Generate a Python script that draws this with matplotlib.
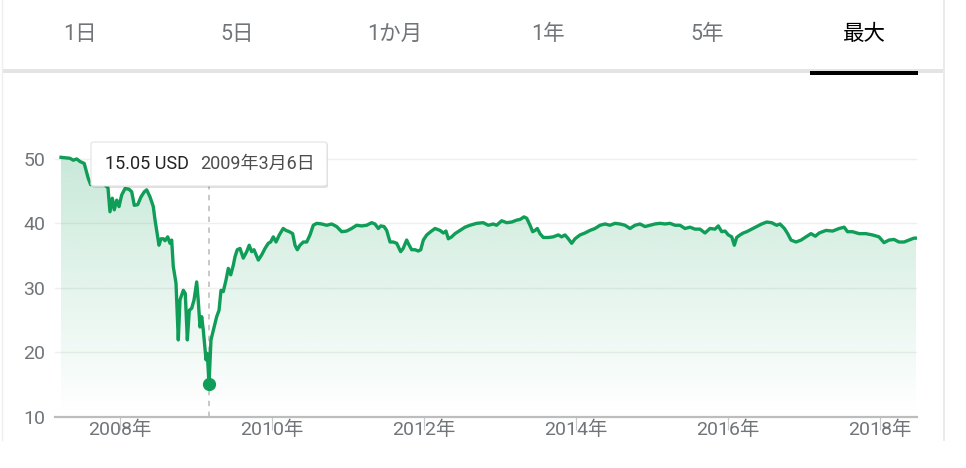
import matplotlib
matplotlib.use("Agg")
import matplotlib.pyplot as plt
import numpy as np
from matplotlib.patches import FancyBboxPatch, PathPatch, Rectangle
from matplotlib.lines import Line2D

# ---------------- data ----------------
dates = [
    2007.224, 2007.342, 2007.386, 2007.430, 2007.474, 2007.529, 2007.582, 2007.614,
    2007.684, 2007.750, 2007.800, 2007.842,
    2007.868, 2007.899, 2007.925, 2007.957, 2007.987, 2008.022, 2008.066, 2008.118,
    2008.154, 2008.188, 2008.233, 2008.276, 2008.320, 2008.351, 2008.395, 2008.438,
    2008.461, 2008.487, 2008.513, 2008.539, 2008.572, 2008.592, 2008.628, 2008.658,
    2008.680, 2008.701, 2008.737, 2008.767, 2008.789, 2008.833, 2008.859, 2008.886,
    2008.912, 2008.943, 2008.974, 2009.009, 2009.029, 2009.053, 2009.075, 2009.096,
    2009.132, 2009.149, 2009.171, 2009.197, 2009.228, 2009.272, 2009.303, 2009.329,
    2009.359, 2009.395, 2009.425, 2009.457, 2009.491, 2009.513, 2009.543, 2009.579,
    2009.622, 2009.667, 2009.700, 2009.732, 2009.763, 2009.820, 2009.864, 2009.908,
    2009.951, 2009.982, 2010.017, 2010.053, 2010.096, 2010.147, 2010.184, 2010.228,
    2010.272, 2010.303, 2010.333, 2010.368, 2010.412, 2010.457, 2010.500, 2010.543,
    2010.588, 2010.654, 2010.720, 2010.786, 2010.851, 2010.917, 2010.982, 2011.047,
    2011.113, 2011.179, 2011.245, 2011.311, 2011.355, 2011.399, 2011.430, 2011.474,
    2011.509, 2011.553, 2011.596, 2011.641, 2011.693, 2011.726, 2011.772, 2011.805,
    2011.838, 2011.882, 2011.925, 2011.957, 2011.991, 2012.036, 2012.088, 2012.145,
    2012.211, 2012.254, 2012.289, 2012.320, 2012.364, 2012.408, 2012.474, 2012.539,
    2012.605, 2012.693, 2012.779, 2012.846, 2012.911, 2012.955, 2013.022, 2013.088,
    2013.154, 2013.220, 2013.263, 2013.316, 2013.351, 2013.395, 2013.430, 2013.461,
    2013.491, 2013.526, 2013.570, 2013.636, 2013.700, 2013.767, 2013.811, 2013.855,
    2013.899, 2013.943, 2013.987, 2014.053, 2014.118, 2014.184, 2014.250, 2014.316,
    2014.382, 2014.447, 2014.513, 2014.579, 2014.645, 2014.711, 2014.776, 2014.842,
    2014.908, 2014.974, 2015.039, 2015.105, 2015.171, 2015.237, 2015.303, 2015.368,
    2015.434, 2015.500, 2015.566, 2015.632, 2015.697, 2015.763, 2015.829, 2015.872,
    2015.917, 2015.961, 2016.004, 2016.049, 2016.083, 2016.114, 2016.158, 2016.201,
    2016.246, 2016.311, 2016.376, 2016.443, 2016.509, 2016.574, 2016.641, 2016.684,
    2016.742, 2016.785, 2016.829, 2016.895, 2016.961, 2017.026, 2017.092, 2017.149,
    2017.200, 2017.289, 2017.376, 2017.463, 2017.529, 2017.572, 2017.638, 2017.725,
    2017.813, 2017.900, 2017.987, 2018.053, 2018.118, 2018.184, 2018.250, 2018.316,
    2018.382, 2018.447, 2018.474,
]
prices = [
    50.25, 50.1, 49.8, 50.0, 49.6, 49.3, 47.0, 46.0,
    46.5, 47.2, 46.0, 45.5,
    41.8, 43.9, 42.1, 43.6, 42.6, 44.4, 45.4, 45.3,
    44.9, 42.8, 42.9, 44.1, 44.9, 45.2, 44.1, 42.6,
    40.5, 38.5, 36.6, 37.6, 37.6, 37.3, 37.9, 36.9,
    37.4, 33.3, 30.7, 21.9, 28.1, 29.6, 29.1, 21.9,
    26.5, 26.8, 28.1, 30.9, 28.1, 23.9, 25.5, 23.4,
    18.8, 19.8, 15.05, 21.9, 23.4, 25.5, 26.5, 29.6,
    29.4, 31.2, 33.0, 32.0, 33.5, 34.8, 35.9, 36.1,
    34.6, 35.6, 36.6, 35.6, 35.9, 34.3, 35.1, 36.1,
    36.9, 37.1, 37.9, 37.1, 38.2, 39.2, 38.9, 38.7,
    38.4, 36.6, 35.9, 36.6, 37.1, 37.1, 38.2, 39.7,
    40.0, 39.9, 39.7, 39.9, 39.5, 38.7, 38.8, 39.2,
    39.7, 39.6, 39.7, 40.1, 39.9, 39.2, 39.6, 39.5,
    38.9, 37.1, 37.1, 36.9, 35.6, 36.1, 37.4, 36.6,
    35.9, 35.9, 35.7, 35.9, 37.4, 38.2, 38.7, 39.2,
    38.9, 38.5, 38.8, 37.6, 37.9, 38.4, 38.9, 39.4,
    39.7, 40.0, 40.1, 39.7, 39.9, 39.7, 40.4, 40.1,
    40.2, 40.5, 40.6, 41.0, 40.8, 39.7, 38.7, 38.9,
    39.2, 38.4, 37.8, 37.8, 37.9, 38.2, 37.9, 38.2,
    37.6, 36.9, 37.6, 38.2, 38.5, 38.9, 39.2, 39.7,
    39.9, 39.7, 40.0, 39.9, 39.7, 39.2, 39.7, 39.9,
    39.5, 39.7, 39.9, 40.0, 39.9, 40.0, 39.7, 39.7,
    39.2, 39.4, 39.1, 39.1, 38.5, 39.2, 39.1, 39.6,
    38.7, 38.8, 38.2, 37.9, 36.6, 37.8, 38.2, 38.5,
    38.7, 39.1, 39.5, 39.9, 40.2, 40.1, 39.7, 39.9,
    39.2, 38.4, 37.4, 37.1, 37.4, 37.9, 38.4, 38.0,
    38.5, 38.9, 38.8, 39.2, 39.4, 38.7, 38.7, 38.4,
    38.4, 38.2, 37.9, 37.0, 37.4, 37.5, 37.1, 37.1,
    37.4, 37.7, 37.7,
]
year_ticks = [2008, 2010, 2012, 2014, 2016, 2018]
year_labels = ["2008年", "2010年", "2012年", "2014年", "2016年", "2018年"]
price_ticks = [10, 20, 30, 40, 50]
price_labels = ["10", "20", "30", "40", "50"]
tabs = ["1日", "5日", "1か月", "1年", "5年", "最大"]
selected_tab = "最大"
tip_date = 2009.171
tip_price = 15.05
tip_value_text = "15.05 USD"
tip_date_text = "2009年3月6日"

# ---------------- style ----------------
FONT = ["Roboto", "Noto Sans CJK JP", "DejaVu Sans"]
plt.rcParams["font.family"] = FONT
GREEN = "#0f9d58"
GRAY_TXT = "#70757a"

W, H = 966, 468
fig = plt.figure(figsize=(W / 100, H / 100), dpi=100)
fig.patch.set_facecolor("white")

def fx(px):
    return px / W

def fy(py):
    return 1 - py / H

# ---------------- tabs ----------------
tab_x = [80, 237, 395, 548, 707, 864]
for lbl, x in zip(tabs, tab_x):
    sel = lbl == selected_tab
    fig.text(fx(x), fy(34), lbl, ha="center", va="center", fontsize=15.5,
             color="#000000" if sel else GRAY_TXT, family=FONT)
fig.add_artist(Rectangle((fx(3), fy(72.5)), fx(943) - fx(3), 3.5 / H,
                         transform=fig.transFigure, facecolor="#e4e4e4",
                         edgecolor="none"))
fig.add_artist(Rectangle((fx(810), fy(75)), fx(918) - fx(810), 4.5 / H,
                         transform=fig.transFigure, facecolor="#000000",
                         edgecolor="none"))
fig.add_artist(Line2D([fx(944), fx(944)], [fy(0), fy(440)],
                      transform=fig.transFigure, color="#e6e6e6", lw=1.2))
fig.add_artist(Line2D([fx(2), fx(2)], [fy(0), fy(440)],
                      transform=fig.transFigure, color="#eeeeee", lw=1.0))

# ---------------- chart ----------------
x0 = 2008 + (55 - 120) / 76
x1 = 2008 + (917 - 120) / 76
ylo, yhi = 10, 51
ax = fig.add_axes([fx(55), fy(416.5), fx(917) - fx(55), fy(152.5) - fy(416.5)])
ax.set_xlim(x0, x1)
ax.set_ylim(ylo, yhi)
ax.set_facecolor("none")

# gradient fill under the line
grad = np.zeros((256, 1, 4))
grad[:, :, :3] = matplotlib.colors.to_rgb(GREEN)
grad[:, 0, 3] = np.linspace(0.23, 0.0, 256)
im = ax.imshow(grad, aspect="auto", extent=[x0, x1, ylo, yhi], origin="upper",
               zorder=1, interpolation="bilinear")
poly = ax.fill_between(dates, prices, ylo, facecolor="none", edgecolor="none")
clip = PathPatch(poly.get_paths()[0], transform=ax.transData,
                 facecolor="none", edgecolor="none")
ax.add_patch(clip)
im.set_clip_path(clip)

ax.plot(dates, prices, color=GREEN, lw=2.4, zorder=3, solid_joinstyle="round")

# dashed cursor and marker
ax.plot([tip_date, tip_date], [ylo, yhi], color="#c4c4c4", lw=1.3,
        dashes=(3, 3), zorder=2)
ax.plot([tip_date], [tip_price], "o", ms=8.5, color=GREEN, zorder=4)

# axes styling
for s in ["top", "right", "left"]:
    ax.spines[s].set_visible(False)
ax.spines["bottom"].set_color("#bdbdbd")
ax.spines["bottom"].set_linewidth(1.6)
ax.set_yticks(price_ticks)
ax.set_yticklabels(price_labels)
ax.set_xticks(year_ticks)
ax.set_xticklabels(year_labels)
ax.tick_params(axis="y", length=0, pad=7, labelsize=14, labelcolor=GRAY_TXT)
ax.tick_params(axis="x", length=9, width=0.8, color="#c8c8c8", direction="out",
               pad=-6, labelsize=14, labelcolor=GRAY_TXT)
ax.grid(axis="y", color="#efefef", lw=1.0, zorder=0)
ax.set_axisbelow(True)

# ---------------- tooltip ----------------
shadow = FancyBboxPatch((fx(92), fy(188)), fx(328) - fx(92), (188 - 143) / H,
                        boxstyle="round,pad=0,rounding_size=0.004",
                        transform=fig.transFigure, facecolor="#000000",
                        alpha=0.12, edgecolor="none", zorder=9)
fig.add_artist(shadow)
box = FancyBboxPatch((fx(91), fy(186)), fx(327) - fx(91), (186 - 142) / H,
                     boxstyle="round,pad=0,rounding_size=0.004",
                     transform=fig.transFigure, facecolor="white",
                     edgecolor="#e3e3e3", lw=0.8, zorder=10)
fig.add_artist(box)
fig.text(fx(105), fy(164), tip_value_text, ha="left", va="center",
         fontsize=13, color="#222222", family=FONT, zorder=11)
fig.text(fx(200), fy(164), tip_date_text, ha="left", va="center",
         fontsize=13, color="#4d4d4d", family=FONT, zorder=11)

fig.savefig("out.png", dpi=100, facecolor="white")
